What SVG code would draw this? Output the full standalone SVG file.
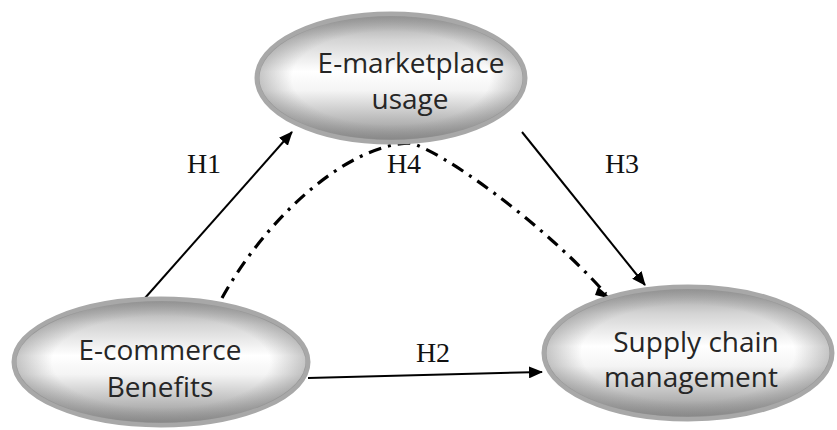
<svg xmlns="http://www.w3.org/2000/svg" width="837" height="430" viewBox="0 0 837 430">
<defs>
<linearGradient id="g" x1="0" y1="0" x2="0" y2="1">
<stop offset="0" stop-color="#9c9c9c"/>
<stop offset="0.2" stop-color="#d4d4d4"/>
<stop offset="0.45" stop-color="#ffffff"/>
<stop offset="0.6" stop-color="#f4f4f4"/>
<stop offset="0.85" stop-color="#b4b4b4"/>
<stop offset="1" stop-color="#8a8a8a"/>
</linearGradient>
<radialGradient id="r" cx="0.5" cy="0.5" r="0.5">
<stop offset="0.75" stop-color="#808080" stop-opacity="0"/>
<stop offset="1" stop-color="#808080" stop-opacity="0.45"/>
</radialGradient>
<marker id="ah" viewBox="0 0 14 12" refX="13" refY="6" markerWidth="14" markerHeight="12" markerUnits="userSpaceOnUse" orient="auto">
<path d="M0,0 L14,6 L0,12 z" fill="#000"/>
</marker>
</defs>
<style>
.node ellipse.b{fill:url(#g);stroke:#a8a8a8;stroke-width:5}
.node ellipse.s{fill:url(#r);stroke:none}
.node text{font-family:"Open Sans","Liberation Sans",sans-serif;font-size:28px;fill:#262626;text-anchor:middle}
.lbl{font-family:"Liberation Serif","Times New Roman",serif;font-size:28px;fill:#111;text-anchor:middle}
.edge{stroke:#000;stroke-width:2;fill:none}
.dd{stroke:#000;stroke-width:3.2;fill:none;stroke-dasharray:13 7 3 7}
</style>
<rect width="837" height="430" fill="#fff"/>
<g id="connectors">
<line class="edge" x1="145" y1="298" x2="292" y2="132" marker-end="url(#ah)"/>
<line class="edge" x1="522" y1="132" x2="645" y2="285" marker-end="url(#ah)"/>
<line class="edge" x1="308" y1="378" x2="542" y2="372" marker-end="url(#ah)"/>
<path class="dd" d="M222,298 C265,220 345,145 410,143 C440,150 540,220 606,294"/>
<path d="M598,287 L612,299 L595,295 z" fill="#000"/>
</g>
<g id="node-emarketplace" class="node">
<ellipse class="b" cx="391" cy="78" rx="134" ry="64"/>
<ellipse class="s" cx="391" cy="78" rx="132" ry="62"/>
<text x="411" y="73">E-marketplace</text>
<text x="410" y="109">usage</text>
</g>
<g id="node-ecommerce" class="node">
<ellipse class="b" cx="161" cy="362" rx="147" ry="63"/>
<ellipse class="s" cx="161" cy="362" rx="145" ry="61"/>
<text x="160" y="360">E-commerce</text>
<text x="160" y="397">Benefits</text>
</g>
<g id="node-scm" class="node">
<ellipse class="b" cx="688" cy="353" rx="144" ry="66"/>
<ellipse class="s" cx="688" cy="353" rx="142" ry="64"/>
<text x="696" y="352">Supply chain</text>
<text x="691" y="387">management</text>
</g>
<text class="lbl" x="204" y="173">H1</text>
<text class="lbl" x="404" y="173">H4</text>
<text class="lbl" x="622" y="173">H3</text>
<text class="lbl" x="433" y="362">H2</text>
</svg>
